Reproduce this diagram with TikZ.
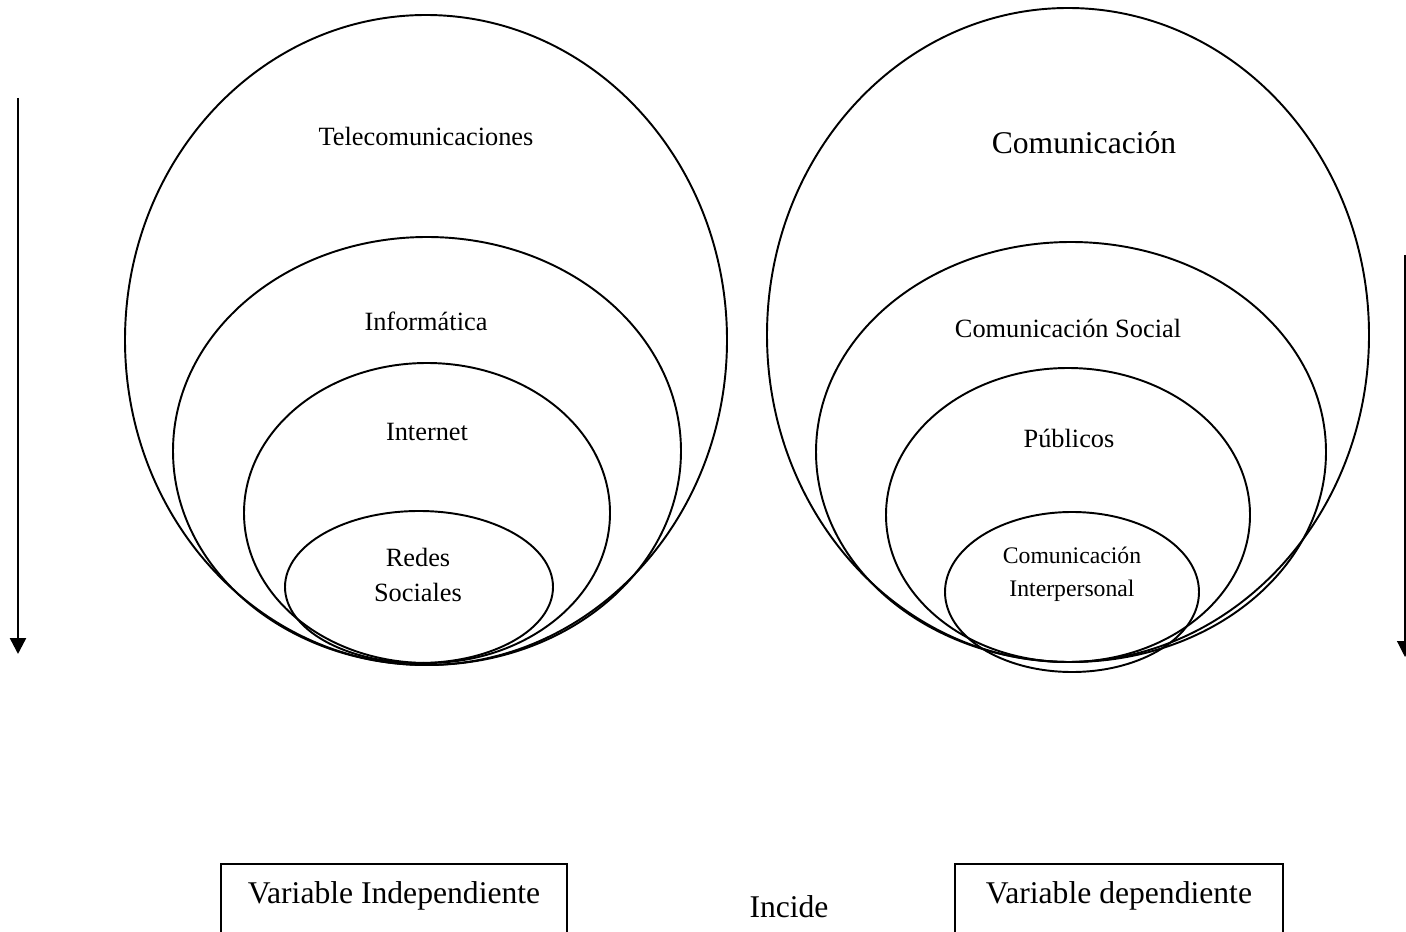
\documentclass[tikz,border=0pt]{standalone}
\usepackage{fontspec}
\setmainfont{Liberation Serif}
\usetikzlibrary{arrows.meta}

\begin{document}
\begin{tikzpicture}[x=0.02cm,y=-0.02cm,
  ring/.style={line width=1.1pt},
  small/.style={font=\fontsize{15}{20}\selectfont,align=center},
  tiny/.style={font=\fontsize{13.5}{18.8}\selectfont,align=center},
  big/.style={font=\fontsize{18}{22}\selectfont},
  varbox/.style={draw,line width=1pt,big,inner sep=0pt,text height=0.8cm,text depth=1.6cm,anchor=north},
  down/.style={-{Triangle[width=0.32cm,length=0.32cm]}}]
\useasboundingbox (0,0) rectangle (1406,932);
\clip (0,0) rectangle (1406,932);

% Left: independent variable
\begin{scope}
\draw[ring] (426,340) ellipse (301 and 325);
\draw[ring] (427,451) ellipse (254 and 214);
\draw[ring] (427,513) ellipse (183 and 150);
\draw[ring] (419,587) ellipse (134 and 76);
\node[small] (telecom) at (426,136) {Telecomunicaciones};
\node[small] (informatica) at (426,321) {Informática};
\node[small] (internet) at (427,432) {Internet};
\node[small] (redes) at (418,575) {Redes\\Sociales};
\coordinate (lefttop) at (18,98);
\coordinate (leftend) at (18,654);
\draw[down,line width=1.4pt] (lefttop) -- (leftend);
\end{scope}

% Right: dependent variable
\begin{scope}
\draw[ring] (1068,335) ellipse (301 and 327);
\draw[ring] (1071,452) ellipse (255 and 210);
\draw[ring] (1068,515) ellipse (182 and 147);
\draw[ring] (1072,592) ellipse (127 and 80);
\node[big] (comunicacion) at (1084,143) {Comunicación};
\node[small] (social) at (1068,328) {Comunicación Social};
\node[small] (publicos) at (1069,438) {Públicos};
\node[tiny] (interpersonal) at (1072,574) {Comunicación\\Interpersonal};
\coordinate (righttop) at (1405,255);
\coordinate (rightend) at (1405,657);
\draw[down,line width=0.7pt] (righttop) -- (rightend);
\end{scope}

% Bottom: variables
\node[varbox,minimum width=6.92cm] (indep) at (394,863) {Variable Independiente};
\node[big] (incide) at (789,907) {Incide};
\node[varbox,minimum width=6.56cm] (dep) at (1119,863) {Variable dependiente};
\end{tikzpicture}
\end{document}
